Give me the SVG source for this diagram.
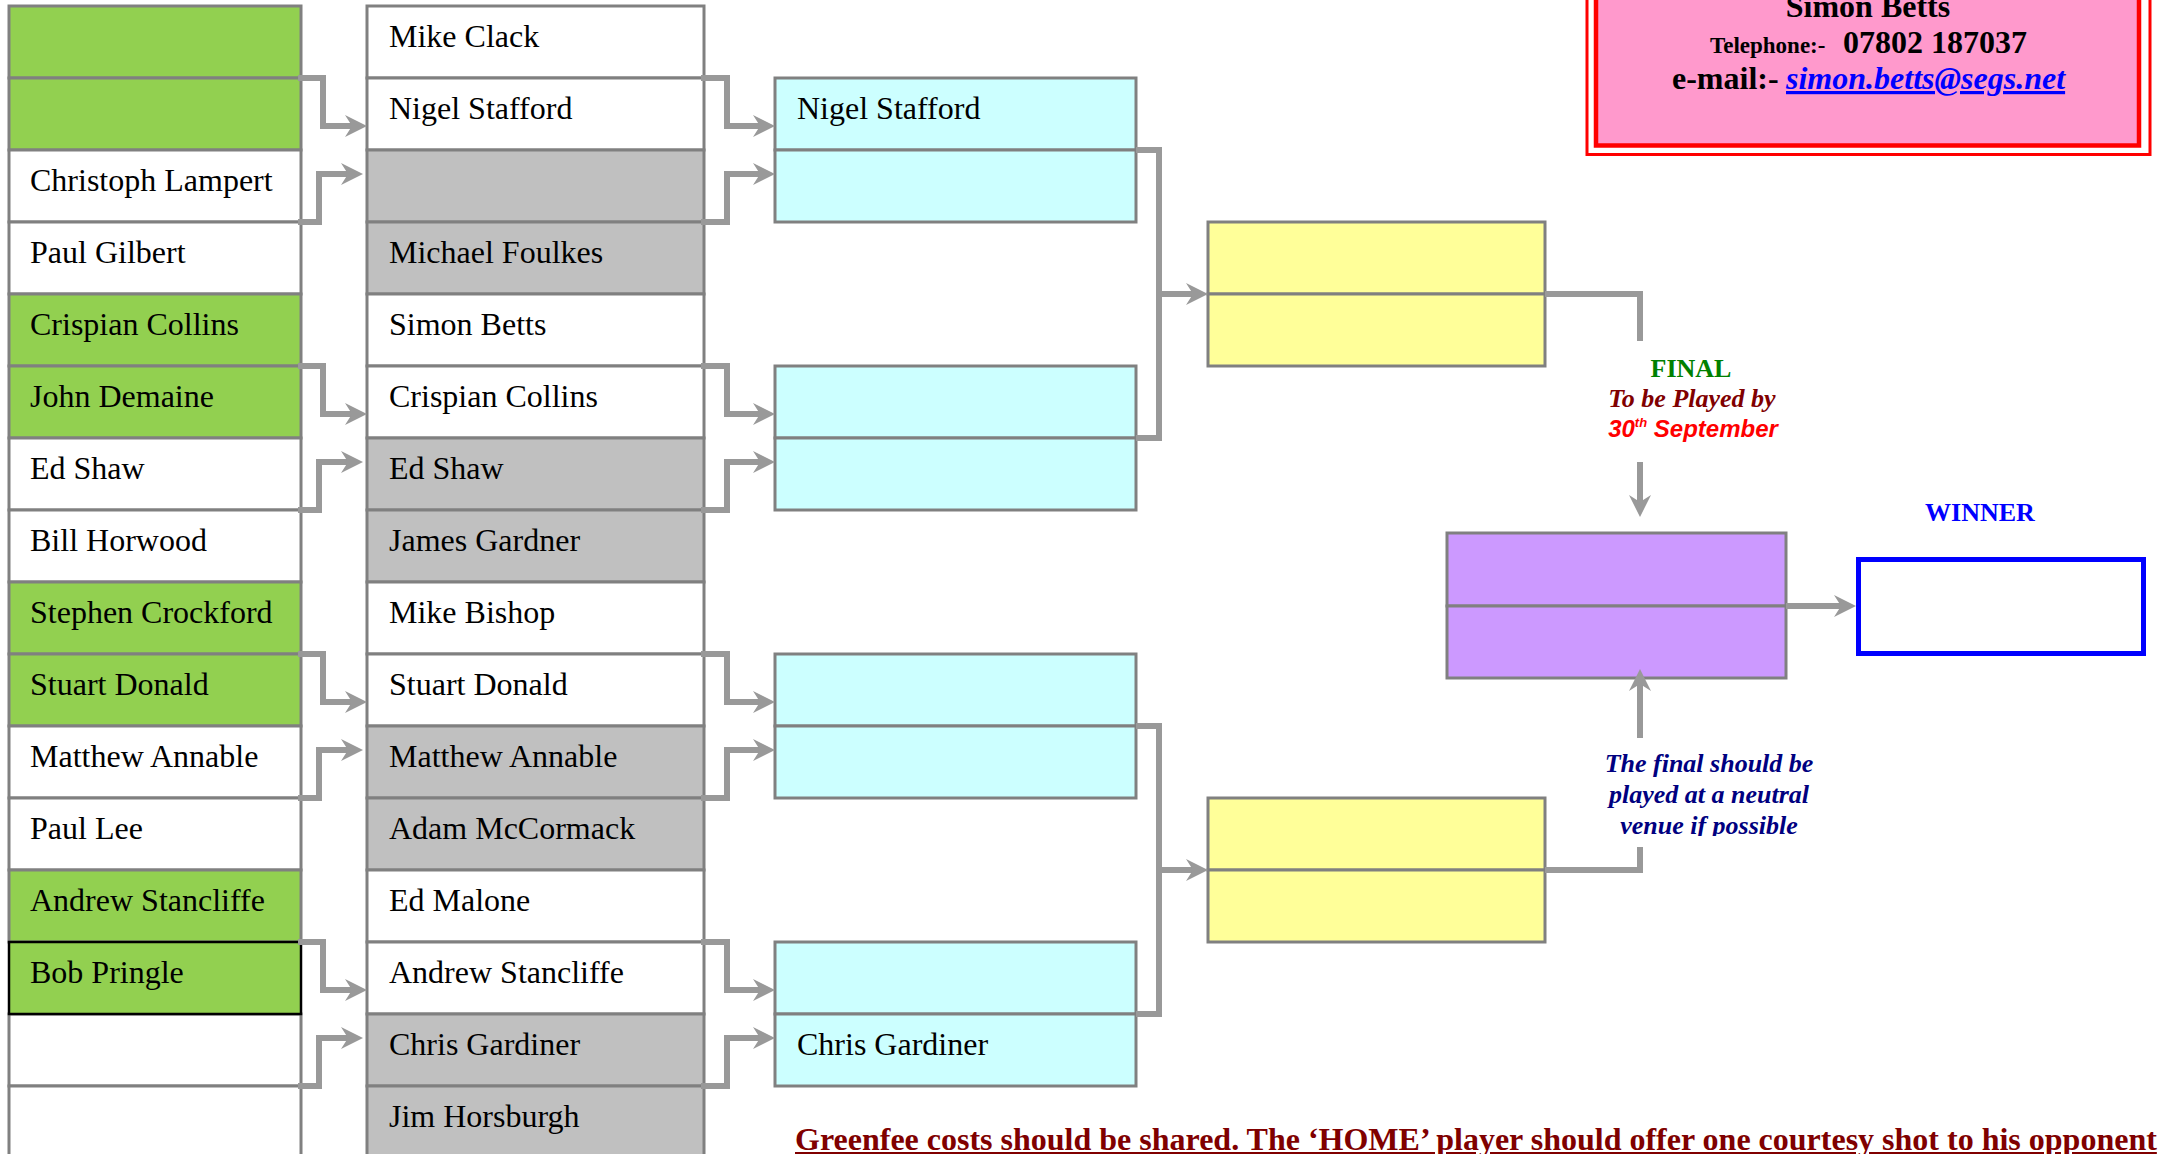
<svg xmlns="http://www.w3.org/2000/svg" width="2161" height="1154" viewBox="0 0 2161 1154">
<style>
text{font-family:"Liberation Serif","Times New Roman",serif;}
.nm{font-size:32px;fill:#000;}
.box{stroke:#808080;stroke-width:3;}
.g{fill:#92D050;}
.w{fill:#FFFFFF;}
.s{fill:#C0C0C0;}
.c{fill:#CCFFFF;}
.y{fill:#FFFF99;}
.p{fill:#CC99FF;}
.con{fill:none;stroke:#999999;stroke-width:6;stroke-linejoin:miter;}
.b{font-weight:bold;}
.bi{font-weight:bold;font-style:italic;}
</style>
<defs>
<marker id="ah" markerUnits="userSpaceOnUse" markerWidth="22" markerHeight="24" viewBox="0 0 22 24" refX="8" refY="12" orient="auto">
<path d="M0,1 L22,12 L0,23 L7,12 Z" fill="#999999"/>
</marker>
<clipPath id="clipNote"><rect x="1550" y="740" width="320" height="96"/></clipPath>
</defs>
<rect x="0" y="0" width="2161" height="1154" fill="#FFFFFF"/>

<!-- Column 1 -->
<g id="col1">
<g id="c1r0"><rect class="box g" x="9" y="6" width="292" height="72"/></g>
<g id="c1r1"><rect class="box g" x="9" y="78" width="292" height="72"/></g>
<g id="c1r2"><rect class="box w" x="9" y="150" width="292" height="72"/><text class="nm" x="30" y="191">Christoph Lampert</text></g>
<g id="c1r3"><rect class="box w" x="9" y="222" width="292" height="72"/><text class="nm" x="30" y="263">Paul Gilbert</text></g>
<g id="c1r4"><rect class="box g" x="9" y="294" width="292" height="72"/><text class="nm" x="30" y="335">Crispian Collins</text></g>
<g id="c1r5"><rect class="box g" x="9" y="366" width="292" height="72"/><text class="nm" x="30" y="407">John Demaine</text></g>
<g id="c1r6"><rect class="box w" x="9" y="438" width="292" height="72"/><text class="nm" x="30" y="479">Ed Shaw</text></g>
<g id="c1r7"><rect class="box w" x="9" y="510" width="292" height="72"/><text class="nm" x="30" y="551">Bill Horwood</text></g>
<g id="c1r8"><rect class="box g" x="9" y="582" width="292" height="72"/><text class="nm" x="30" y="623">Stephen Crockford</text></g>
<g id="c1r9"><rect class="box g" x="9" y="654" width="292" height="72"/><text class="nm" x="30" y="695">Stuart Donald</text></g>
<g id="c1r10"><rect class="box w" x="9" y="726" width="292" height="72"/><text class="nm" x="30" y="767">Matthew Annable</text></g>
<g id="c1r11"><rect class="box w" x="9" y="798" width="292" height="72"/><text class="nm" x="30" y="839">Paul Lee</text></g>
<g id="c1r12"><rect class="box g" x="9" y="870" width="292" height="72"/><text class="nm" x="30" y="911">Andrew Stancliffe</text></g>
<g id="c1r14"><rect class="box w" x="9" y="1014" width="292" height="72"/></g>
<g id="c1r15"><rect class="box w" x="9" y="1086" width="292" height="80"/></g>
<g id="c1r13"><rect class="g" x="9" y="942" width="292" height="72" stroke="#000000" stroke-width="2.5"/><text class="nm" x="30" y="983">Bob Pringle</text></g>
</g>

<!-- Column 2 -->
<g id="col2">
<g id="c2r0"><rect class="box w" x="367" y="6" width="337" height="72"/><text class="nm" x="389" y="47">Mike Clack</text></g>
<g id="c2r1"><rect class="box w" x="367" y="78" width="337" height="72"/><text class="nm" x="389" y="119">Nigel Stafford</text></g>
<g id="c2r2"><rect class="box s" x="367" y="150" width="337" height="72"/></g>
<g id="c2r3"><rect class="box s" x="367" y="222" width="337" height="72"/><text class="nm" x="389" y="263">Michael Foulkes</text></g>
<g id="c2r4"><rect class="box w" x="367" y="294" width="337" height="72"/><text class="nm" x="389" y="335">Simon Betts</text></g>
<g id="c2r5"><rect class="box w" x="367" y="366" width="337" height="72"/><text class="nm" x="389" y="407">Crispian Collins</text></g>
<g id="c2r6"><rect class="box s" x="367" y="438" width="337" height="72"/><text class="nm" x="389" y="479">Ed Shaw</text></g>
<g id="c2r7"><rect class="box s" x="367" y="510" width="337" height="72"/><text class="nm" x="389" y="551">James Gardner</text></g>
<g id="c2r8"><rect class="box w" x="367" y="582" width="337" height="72"/><text class="nm" x="389" y="623">Mike Bishop</text></g>
<g id="c2r9"><rect class="box w" x="367" y="654" width="337" height="72"/><text class="nm" x="389" y="695">Stuart Donald</text></g>
<g id="c2r10"><rect class="box s" x="367" y="726" width="337" height="72"/><text class="nm" x="389" y="767">Matthew Annable</text></g>
<g id="c2r11"><rect class="box s" x="367" y="798" width="337" height="72"/><text class="nm" x="389" y="839">Adam McCormack</text></g>
<g id="c2r12"><rect class="box w" x="367" y="870" width="337" height="72"/><text class="nm" x="389" y="911">Ed Malone</text></g>
<g id="c2r13"><rect class="box w" x="367" y="942" width="337" height="72"/><text class="nm" x="389" y="983">Andrew Stancliffe</text></g>
<g id="c2r14"><rect class="box s" x="367" y="1014" width="337" height="72"/><text class="nm" x="389" y="1055">Chris Gardiner</text></g>
<g id="c2r15"><rect class="box s" x="367" y="1086" width="337" height="80"/><text class="nm" x="389" y="1127">Jim Horsburgh</text></g>
</g>

<!-- Column 3 (cyan) -->
<g id="qf1"><rect class="box c" x="775" y="78" width="361" height="72"/><rect class="box c" x="775" y="150" width="361" height="72"/><text class="nm" x="797" y="119">Nigel Stafford</text></g>
<g id="qf2"><rect class="box c" x="775" y="366" width="361" height="72"/><rect class="box c" x="775" y="438" width="361" height="72"/></g>
<g id="qf3"><rect class="box c" x="775" y="654" width="361" height="72"/><rect class="box c" x="775" y="726" width="361" height="72"/></g>
<g id="qf4"><rect class="box c" x="775" y="942" width="361" height="72"/><rect class="box c" x="775" y="1014" width="361" height="72"/><text class="nm" x="797" y="1055">Chris Gardiner</text></g>

<!-- Semi finals (yellow) -->
<g id="sf1"><rect class="box y" x="1208" y="222" width="337" height="72"/><rect class="box y" x="1208" y="294" width="337" height="72"/></g>
<g id="sf2"><rect class="box y" x="1208" y="798" width="337" height="72"/><rect class="box y" x="1208" y="870" width="337" height="72"/></g>

<!-- Final (purple) -->
<g id="final"><rect class="box p" x="1447" y="533" width="339" height="73"/><rect class="box p" x="1447" y="606" width="339" height="72"/></g>

<!-- Winner -->
<g id="winner">
<text class="b" x="1980" y="521" text-anchor="middle" font-size="26" fill="#0000FF">WINNER</text>
<rect x="1858.5" y="559.5" width="285" height="94" fill="#FFFFFF" stroke="#0000FF" stroke-width="5"/>
</g>

<!-- Contact box -->
<g id="contact">
<rect x="1587" y="-20" width="563" height="174.5" fill="#FFFFFF" stroke="#FF0000" stroke-width="3"/>
<rect x="1596" y="-20" width="543" height="165.5" fill="#FF99CC" stroke="#FF0000" stroke-width="4.5"/>
<text class="b" x="1868" y="17" text-anchor="middle" font-size="32" fill="#000">Simon Betts</text>
<text class="b" x="1710" y="53" font-size="23" fill="#000">Telephone:-</text>
<text class="b" x="1843" y="53" font-size="32" fill="#000">07802 187037</text>
<text class="b" x="1672" y="89" font-size="32" fill="#000">e-mail:-</text>
<text class="bi" x="1786" y="89" font-size="32" fill="#0000FF" text-decoration="underline">simon.betts@segs.net</text>
</g>

<!-- Final notes -->
<g id="finalnote">
<text class="b" x="1691" y="377" text-anchor="middle" font-size="26" fill="#008000">FINAL</text>
<text class="bi" x="1692" y="407" text-anchor="middle" font-size="26" fill="#800000">To be Played by</text>
<text x="1693" y="437" text-anchor="middle" font-size="24" fill="#FF0000" font-weight="bold" font-style="italic" style="font-family:'Liberation Sans',Arial,sans-serif">30<tspan font-size="13" dy="-10">th</tspan><tspan dy="10"> September</tspan></text>
</g>
<g id="venuenote" clip-path="url(#clipNote)">
<text class="bi" x="1709" y="772" text-anchor="middle" font-size="26" fill="#000080">The final should be</text>
<text class="bi" x="1709" y="803" text-anchor="middle" font-size="26" fill="#000080">played at a neutral</text>
<text class="bi" x="1709" y="834" text-anchor="middle" font-size="26" fill="#000080">venue if possible</text>
</g>

<!-- Connectors -->
<g id="connectors" class="con">
<!-- col1 -> col2 -->
<path d="M298,78 H323 V126 H353" marker-end="url(#ah)"/>
<path d="M298,222 H319 V174 H349" marker-end="url(#ah)"/>
<path d="M298,366 H323 V414 H353" marker-end="url(#ah)"/>
<path d="M298,510 H319 V462 H349" marker-end="url(#ah)"/>
<path d="M298,654 H323 V702 H353" marker-end="url(#ah)"/>
<path d="M298,798 H319 V750 H349" marker-end="url(#ah)"/>
<path d="M298,942 H323 V990 H353" marker-end="url(#ah)"/>
<path d="M298,1086 H319 V1038 H349" marker-end="url(#ah)"/>
<!-- col2 -> col3 -->
<path d="M701,78 H727 V126 H761" marker-end="url(#ah)"/>
<path d="M701,222 H727 V174 H761" marker-end="url(#ah)"/>
<path d="M701,366 H727 V414 H761" marker-end="url(#ah)"/>
<path d="M701,510 H727 V462 H761" marker-end="url(#ah)"/>
<path d="M701,654 H727 V702 H761" marker-end="url(#ah)"/>
<path d="M701,798 H727 V750 H761" marker-end="url(#ah)"/>
<path d="M701,942 H727 V990 H761" marker-end="url(#ah)"/>
<path d="M701,1086 H727 V1038 H761" marker-end="url(#ah)"/>
<!-- col3 -> semis -->
<path d="M1136,150 H1159 V438 H1136"/>
<path d="M1159,294 H1194" marker-end="url(#ah)"/>
<path d="M1136,726 H1159 V1014 H1136"/>
<path d="M1159,870 H1194" marker-end="url(#ah)"/>
<!-- semis -> final -->
<path d="M1545,294 H1640 V341"/>
<path d="M1640,462 V503" marker-end="url(#ah)"/>
<path d="M1545,870 H1640 V847"/>
<path d="M1640,738 V683" marker-end="url(#ah)"/>
<!-- final -> winner -->
<path d="M1786,606 H1842" marker-end="url(#ah)"/>
</g>

<!-- Footer note -->
<g id="footer">
<text class="b" x="795" y="1150" font-size="32" fill="#800000" text-decoration="underline">Greenfee costs should be shared. The ‘HOME’ player should offer one courtesy shot to his opponent</text>
</g>
</svg>
